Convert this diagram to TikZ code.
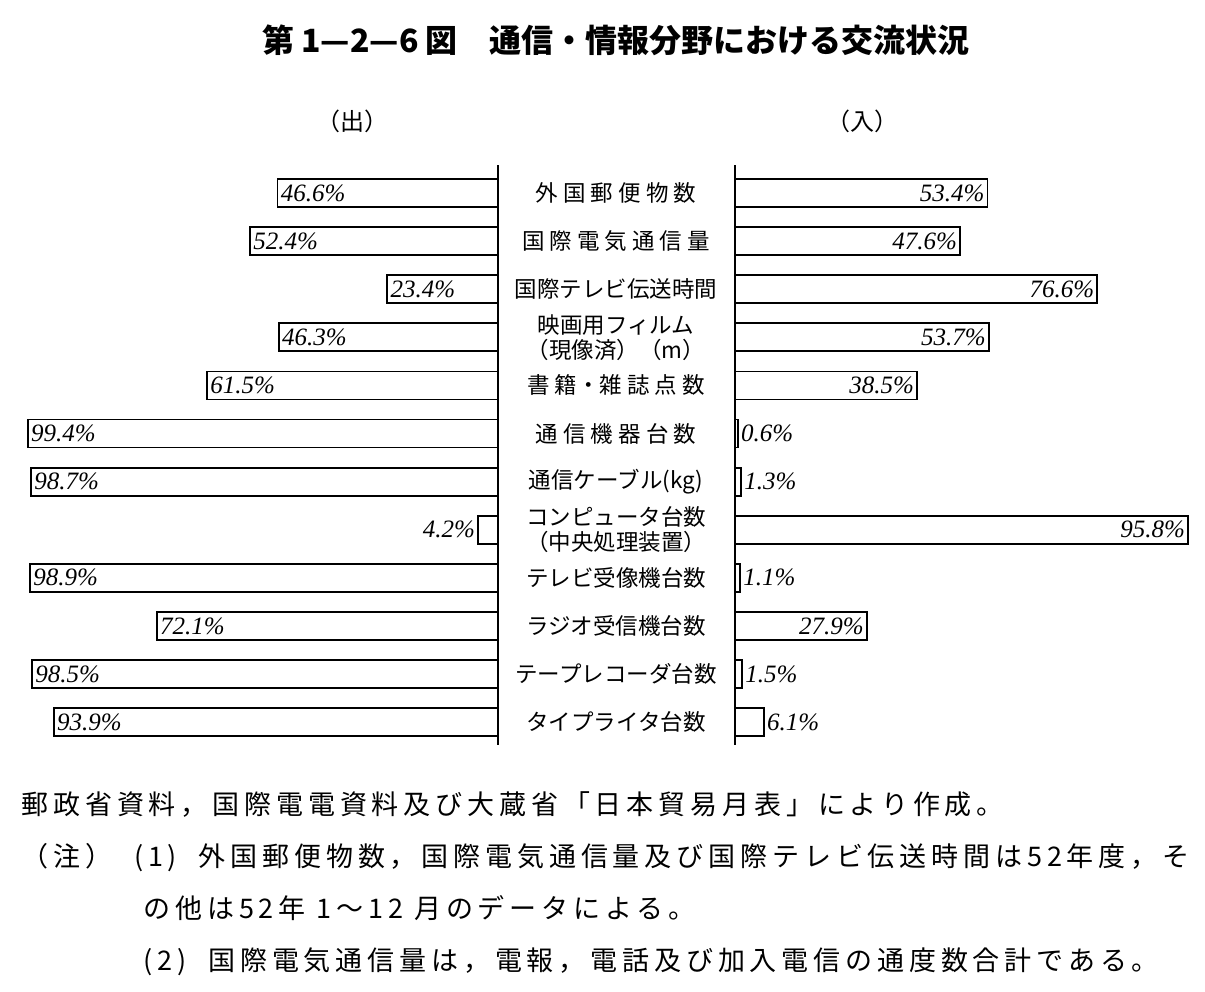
\documentclass[tikz,border=0pt]{standalone}
\usepackage{fontspec}
\setmainfont{Noto Sans CJK JP}
\newfontfamily\cjk{Noto Sans CJK JP}
\newfontfamily\cjkwide[LetterSpace=18]{Noto Sans CJK JP}
\newfontfamily\numf{Liberation Serif}
\begin{document}
\begin{tikzpicture}[x=1pt,y=-1pt,
  barbox/.style={draw,line width=1.8pt},
  pct/.style={font=\numf\fontsize{25}{25}\selectfont\itshape,inner sep=3pt},
  lab/.style={font=\cjk\fontsize{22.5}{25}\selectfont,align=center},
  note/.style={font=\cjkwide\fontsize{27}{30}\selectfont,anchor=west}]
\useasboundingbox (0,0) rectangle (1205,991);
\node[font=\cjk\bfseries\fontsize{32}{32}\selectfont] (title) at (616,40) {第 1—2—6 図\quad 通信・情報分野における交流状況};
\node[font=\cjk\fontsize{24}{24}\selectfont] (out) at (352,121) {（出）};
\node[font=\cjk\fontsize{24}{24}\selectfont] (in) at (862,121) {（入）};
\coordinate (la) at (498,165); \coordinate (lb) at (498,745);
\coordinate (ra) at (735,165); \coordinate (rb) at (735,745);
\draw[line width=1.5pt] (la) -- (lb);
\draw[line width=1.5pt] (ra) -- (rb);
\def\s{4.73}
\foreach \i/\L/\R/\txt in {
 0/46.6/53.4/{外 国 郵 便 物 数},
 1/52.4/47.6/{国 際 電 気 通 信 量},
 2/23.4/76.6/{国際テレビ伝送時間},
 3/46.3/53.7/{映画用フィルム\\（現像済）（m）},
 4/61.5/38.5/{書 籍・雑 誌 点 数},
 5/99.4/0.6/{通 信 機 器 台 数},
 6/98.7/1.3/{通信ケーブル(kg)},
 7/4.2/95.8/{コンピュータ台数\\（中央処理装置）},
 8/98.9/1.1/{テレビ受像機台数},
 9/72.1/27.9/{ラジオ受信機台数},
 10/98.5/1.5/{テープレコーダ台数},
 11/93.9/6.1/{タイプライタ台数}}{
  \pgfmathsetmacro\y{193+48.1*\i}
  \pgfmathsetmacro\xl{498-\s*\L}
  \pgfmathsetmacro\xr{735+\s*\R}
  \draw[barbox] (\xl,\y-14) rectangle (498,\y+14);
  \draw[barbox] (735,\y-14) rectangle (\xr,\y+14);
  \node[lab,inner sep=0pt] (c\i) at (616,\y) {\txt};
  \pgfmathparse{\L>10?1:0}
  \ifnum\pgfmathresult=1
    \node[pct,anchor=west] (pl\i) at (\xl,\y) {\L\%};
  \else
    \node[pct,anchor=east] (pl\i) at (\xl,\y) {\L\%};
  \fi
  \pgfmathparse{\R>10?1:0}
  \ifnum\pgfmathresult=1
    \node[pct,anchor=east] (pr\i) at (\xr,\y) {\R\%};
  \else
    \node[pct,anchor=west] (pr\i) at (\xr,\y) {\R\%};
  \fi
}
\node[note] (n1) at (18,805) {郵政省資料，国際電電資料及び大蔵省「日本貿易月表」により作成。};
\node[note] (n2) at (18,858) {（注）\ \ (1)\ \ 外国郵便物数，国際電気通信量及び国際テレビ伝送時間は52年度，そ};
\node[note] (n3) at (140,908) {の他は52年 1～12 月のデータによる。};
\node[note] (n4) at (140,962) {(2)\ \ 国際電気通信量は，電報，電話及び加入電信の通度数合計である。};
\end{tikzpicture}
\end{document}
